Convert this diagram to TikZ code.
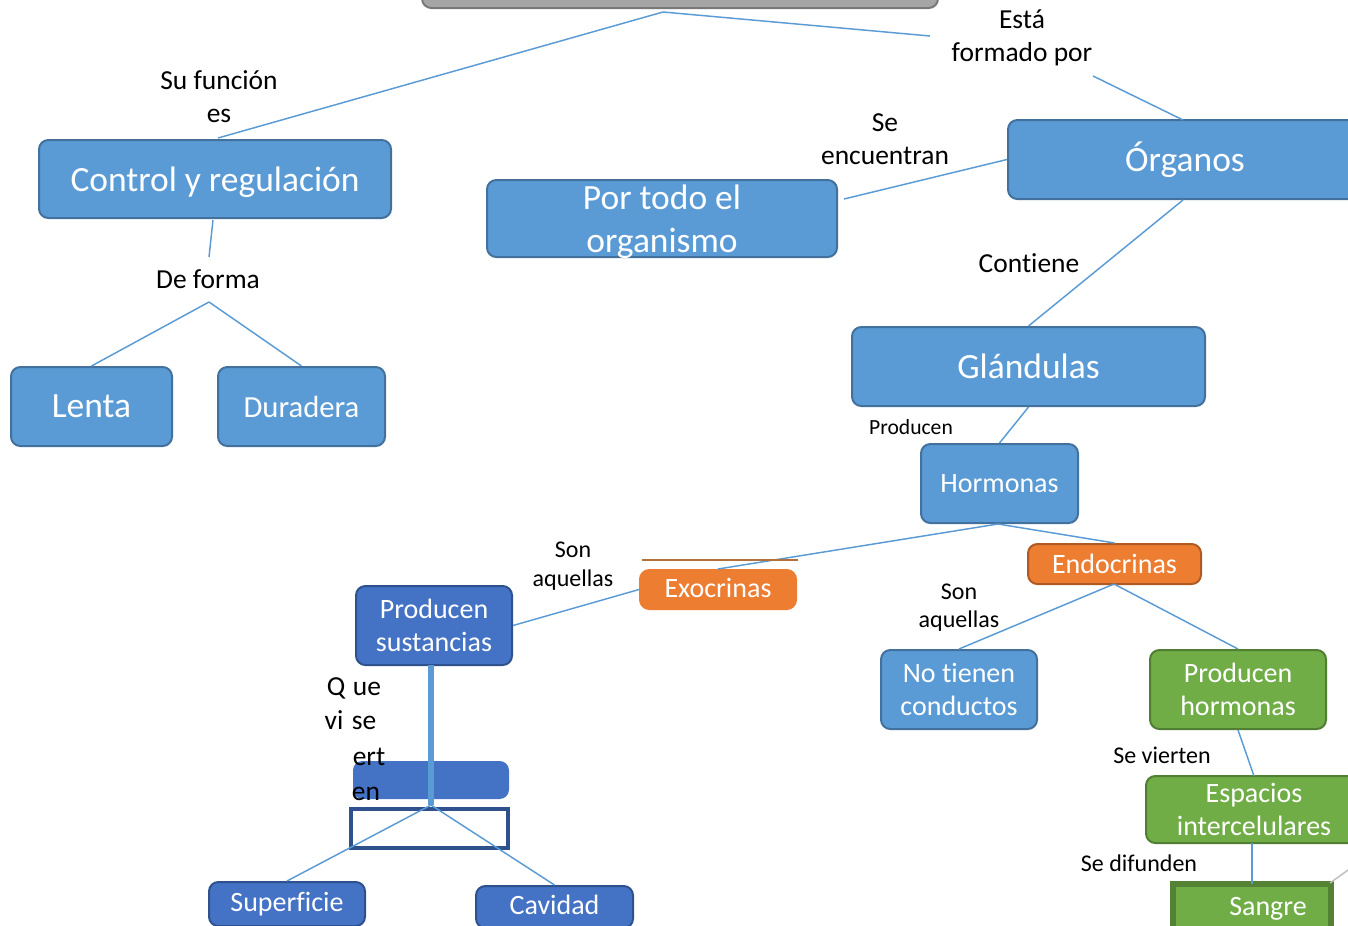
\documentclass[tikz,border=0pt]{standalone}
\usepackage{fontspec}
\setmainfont[Ligatures=NoCommon]{Carlito}
\definecolor{blueF}{HTML}{5B9BD5}
\definecolor{blueD}{HTML}{41719C}
\definecolor{darkF}{HTML}{4472C4}
\definecolor{darkD}{HTML}{2F528F}
\definecolor{orangeF}{HTML}{ED7D31}
\definecolor{orangeD}{HTML}{AE5A21}
\definecolor{greenF}{HTML}{70AD47}
\definecolor{greenD}{HTML}{507E32}
\definecolor{greenDD}{HTML}{548235}
\definecolor{grayF}{HTML}{A5A5A5}
\definecolor{grayD}{HTML}{787878}
\definecolor{conn}{HTML}{5B9BD5}
\definecolor{brownln}{HTML}{B4703C}
\tikzset{
  sz/.style 2 args={minimum width=#1*0.75pt, minimum height=#2*0.75pt},
  boxbase/.style={rounded corners=7pt, line width=1.5pt, inner sep=0pt, align=center, text=white},
  bluebox/.style={boxbase, fill=blueF, draw=blueD},
  darkbox/.style={boxbase, fill=darkF, draw=darkD},
  orangebox/.style={boxbase, fill=orangeF, draw=orangeD},
  greenbox/.style={boxbase, fill=greenF, draw=greenD},
  big/.style={font=\fontsize{26.6}{32.5}\selectfont},
  mid/.style={font=\fontsize{21}{25}\selectfont},
  lbl/.style={align=center, inner sep=0pt, font=\fontsize{20.6}{24.75}\selectfont},
  smalllbl/.style={align=center, inner sep=0pt, font=\fontsize{18}{21.5}\selectfont},
  tinylbl/.style={align=center, inner sep=0pt, font=\fontsize{16.2}{19}\selectfont},
  ln/.style={draw=conn, line width=1.1pt},
}
\begin{document}
\begin{tikzpicture}[x=0.75pt, y=-0.75pt]
\useasboundingbox (0,0) rectangle (1348,925);
\clip (0,0) rectangle (1348,925);
\fill[white] (0,0) rectangle (1348,925);

% nodes
\node[boxbase, fill=grayF, draw=grayD, sz={516}{80}] (top) at (680,-32) {};
\node[bluebox, big, sz={352}{78}, text height=19.2pt, text depth=0pt] (ctrl) at (215,179) {Control y regulación};
\node[bluebox, big, sz={350}{77}, text depth=0pt] (portodo) at (662,218.5) {Por todo el\\organismo};
\node[bluebox, big, sz={354}{79}] (organos) at (1185,159.5) {Órganos};
\node[bluebox, big, sz={353}{79}] (glandulas) at (1028.5,366.5) {Glándulas};
\node[bluebox, big, sz={161}{79}] (lenta) at (91.5,406.5) {Lenta};
\node[bluebox, font=\fontsize{23}{28}\selectfont, sz={167}{79}] (duradera) at (301.5,406.5) {Duradera};
\node[bluebox, mid, sz={157}{79}] (hormonas) at (999.5,483.5) {Hormonas};
\node[orangebox, mid, sz={173}{40}] (endo) at (1114.5,564) {Endocrinas};
\node[orangebox, draw=orangeF, mid, sz={156}{39}, text depth=3pt] (exo) at (718,589.5) {Exocrinas};
\node[darkbox, mid, sz={156}{79}] (prodsus) at (434,625.5) {Producen\\sustancias};
\node[bluebox, mid, sz={156}{79}] (notienen) at (959,689.5) {No tienen\\conductos};
\node[greenbox, mid, sz={176}{79}] (prodhorm) at (1238,689.5) {Producen\\hormonas};
\node[greenbox, mid, sz={216}{67}] (espacios) at (1254,809.5) {Espacios\\intercelulares};
\node[draw=greenDD, line width=4pt, fill=greenF, inner sep=0pt, sz={158}{46}] (sangre) at (1252,907) {};
\node[text=white, mid, inner sep=0pt] (sangretxt) at (1268,909) {Sangre};
\node[darkbox, draw=none, sz={156}{38}] (bluerect) at (431,780) {};
\node[draw=darkD, line width=3pt, inner sep=0pt, sz={157}{39}] (hollow) at (429.5,828.5) {};
\node[darkbox, mid, sz={156}{44}] (superficie) at (287,904) {Superficie};
\node[darkbox, mid, sz={157}{42}, text depth=3pt] (cavidad) at (554.5,907) {Cavidad};

% labels
\node[lbl] (sufuncion) at (219,97) {Su función\\es};
\node[lbl] (esta) at (1022,38) {Está\\formado por};
\node[lbl] (seenc) at (885,139) {Se\\encuentran};
\node[lbl] (deforma) at (208,279) {De forma};
\node[lbl] (contiene) at (1029,263) {Contiene};
\node[tinylbl] (producen) at (911,427) {Producen};
\node[smalllbl] (sonaq1) at (573,566) {Son\\aquellas};
\node[smalllbl] (sonaq2) at (959,607.5) {Son\\aquellas};
\node[smalllbl] (severt) at (1162,755) {Se vierten};
\node[smalllbl] (sedif) at (1139,863) {Se difunden};

% connectors
\coordinate (j1) at (663,12);
\coordinate (c1) at (930,36);
\coordinate (c2) at (1093,76);
\coordinate (c3) at (844,199);
\coordinate (c4) at (213,220);
\coordinate (c5) at (209,257);
\coordinate (j3) at (209,302);
\coordinate (j4) at (998,524);
\coordinate (j5) at (1114,584);
\coordinate (j2) at (431,805);
\draw[ln] (j1) -- (218,138);
\draw[ln] (j1) -- (c1);
\draw[ln] (c2) -- (1183,120);
\draw[ln] (organos.west) -- (c3);
\draw[ln] (1183,200) -- (glandulas.north);
\draw[ln] (c4) -- (c5);
\draw[ln] (j3) -- (lenta.north);
\draw[ln] (j3) -- (duradera.north);
\draw[ln] (glandulas.south) -- (hormonas.north);
\draw[ln] (j4) -- (exo.north);
\draw[ln] (j4) -- (endo.north);
\draw[ln] (exo.west) -- (prodsus.east);
\draw[draw=brownln, line width=0.8pt] (642,560) -- (798,560);
\draw[ln] (j5) -- (notienen.north);
\draw[ln] (j5) -- (prodhorm.north);
\draw[ln] (prodhorm.south) -- (1254,776);
\draw[ln] (1252,843) -- (1252,884);
\draw[draw=black!25, line width=1.1pt] (1330,883) -- (1348,870);
\draw[draw=conn, line width=4pt] (431,665) -- (j2);
\draw[ln] (j2) -- (superficie.north);
\draw[ln] (j2) -- (cavidad.north);

% broken label
\node[lbl, anchor=base] (q1) at (336,695) {Q};
\node[lbl, anchor=base] (q2) at (367,695) {ue};
\node[lbl, anchor=base] (q3) at (334,729) {vi};
\node[lbl, anchor=base] (q4) at (364,729) {se};
\node[lbl, anchor=base] (q5) at (369,765) {ert};
\node[lbl, anchor=base] (q6) at (366,800) {en};
\end{tikzpicture}
\end{document}
